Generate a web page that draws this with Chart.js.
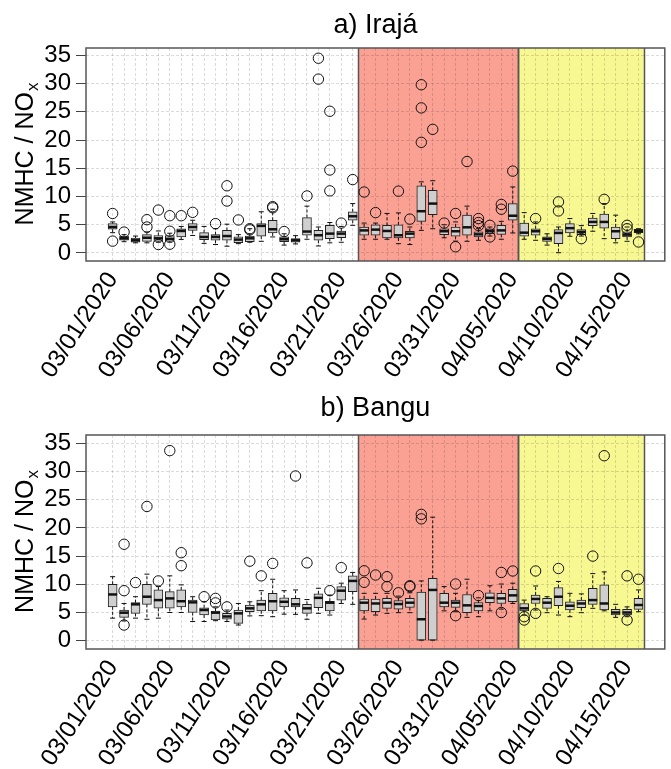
<!DOCTYPE html>
<html>
<head>
<meta charset="utf-8">
<script src="https://cdn.jsdelivr.net/npm/chart.js@4.4.1/dist/chart.umd.min.js"></script>
<style>
body { margin: 0; background: #fff; }
#wrap { position: relative; width: 671px; height: 769px; overflow: hidden; }
canvas { position: absolute; left: 0; }
</style>
</head>
<body>
<div id="wrap">
  <canvas id="chartA" width="671" height="392" style="top:0"></canvas>
  <canvas id="chartB" width="671" height="377" style="top:392px"></canvas>
</div>
<script>
const days = [
  '03/01/2020','03/02/2020','03/03/2020','03/04/2020','03/05/2020','03/06/2020','03/07/2020','03/08/2020',
  '03/09/2020','03/10/2020','03/11/2020','03/12/2020','03/13/2020','03/14/2020','03/15/2020','03/16/2020',
  '03/17/2020','03/18/2020','03/19/2020','03/20/2020','03/21/2020','03/22/2020','03/23/2020','03/24/2020',
  '03/25/2020','03/26/2020','03/27/2020','03/28/2020','03/29/2020','03/30/2020','03/31/2020','04/01/2020',
  '04/02/2020','04/03/2020','04/04/2020','04/05/2020','04/06/2020','04/07/2020','04/08/2020','04/09/2020',
  '04/10/2020','04/11/2020','04/12/2020','04/13/2020','04/14/2020','04/15/2020','04/16/2020'
];
const yTicks = [0, 5, 10, 15, 20, 25, 30, 35];

// a) Irajá
const irajaLo  = [3.6,2.0,1.8,1.8,1.9,1.9,2.4,3.1,1.7,1.5,1.2,1.65,1.9,2.07,2.84,1.4,1.6,2.43,1.24,1.8,1.9,4.9,2.43,2.43,2.43,1.65,1.5,4.0,4.3,2.7,2.1,2.07,2.25,3.0,2.43,3.55,2.43,2.25,1.4,0.05,2.96,3.0,3.85,2.54,1.8,2.07,3.4];
const irajaQ1  = [4.2,2.25,1.9,2.07,2.07,2.07,2.84,4.0,2.37,2.25,2.25,1.83,2.0,3.0,3.55,2.0,1.9,3.14,2.25,2.54,2.7,5.8,3.14,3.14,2.66,2.66,2.66,5.6,6.8,3.25,2.96,3.14,2.84,3.43,3.3,5.8,2.96,3.14,2.07,1.65,3.55,3.25,4.85,4.4,2.54,2.84,3.6];
const irajaMed = [4.6,2.6,2.25,2.7,2.6,2.5,3.9,4.6,2.84,2.84,3.0,2.37,2.6,4.8,4.2,2.43,2.25,3.8,3.14,3.43,3.43,6.5,4.0,4.14,3.9,3.14,3.43,7.4,8.75,3.85,3.85,4.55,3.3,3.9,4.0,6.6,3.6,3.85,2.5,3.55,4.4,3.73,5.5,5.5,3.85,3.25,3.9];
const irajaQ3  = [5.2,3.0,2.66,3.25,3.1,3.1,4.3,5.2,3.6,3.25,4.0,2.84,3.0,5.2,5.8,2.84,2.54,6.27,4.0,4.9,3.9,7.3,4.6,5.0,4.9,5.0,3.85,11.9,11.1,4.3,4.6,6.7,3.73,4.3,4.9,8.75,5.3,4.3,2.84,4.14,5.2,4.14,6.2,6.9,4.6,3.73,4.2];
const irajaHi  = [5.5,3.25,3.0,3.7,3.9,3.5,4.7,5.8,4.7,4.3,5.1,3.25,4.3,7.3,7.75,3.4,3.07,8.3,4.6,5.4,4.7,8.75,5.3,5.3,7.0,7.1,4.6,12.6,12.8,5.0,5.5,8.3,4.3,4.6,5.6,11.7,7.15,5.5,3.4,4.6,6.1,4.85,7.0,8.75,6.7,4.6,4.3];
const irajaOut = [[7.0,2.1],[3.7],[],[5.9,4.6],[7.6,1.5],[6.6,3.85,1.55],[6.6],[7.2],[],[5.2],[11.9,9.2],[5.85],[4.3,4.1],[],[8.2,8.0],[3.8],[],[10.1],[34.5,30.8],[25.1,14.7,11.0],[5.3],[13.0],[10.8],[7.15],[],[10.95],[6.0],[29.8,25.7,19.6],[21.9],[5.3],[7.0,1.1],[16.2],[6.1,5.4,4.85],[4.9,2.84],[8.6,7.75],[14.5],[],[6.1],[],[9.05,7.45],[],[2.54],[],[9.5],[],[4.9,4.3],[1.95]];

// b) Bangu
const banguLo  = [4.0,3.5,4.0,3.8,4.0,5.0,5.0,3.4,3.4,3.55,3.4,2.78,4.4,4.44,4.26,4.7,4.67,3.8,4.85,4.55,6.6,6.45,3.84,4.55,4.85,4.97,4.97,0.1,0.1,5.3,5.14,4.14,4.26,5.3,5.6,6.6,4.55,5.44,4.97,4.55,4.26,4.97,5.74,5.3,4.14,4.26,5.14];
const banguQ1  = [6.0,4.14,4.85,6.45,5.75,5.75,6.0,5.0,4.55,3.67,3.84,3.07,5.14,5.3,5.3,6.0,6.0,4.85,5.85,5.26,7.2,8.7,5.3,5.14,5.74,5.6,5.9,0.1,0.1,6.0,5.9,4.97,5.3,6.74,6.6,6.9,5.3,6.6,5.74,6.2,5.44,5.85,6.45,5.44,4.55,4.55,5.56];
const banguMed = [8.2,4.97,6.45,7.8,7.2,7.5,7.0,6.8,5.44,4.97,4.3,4.85,5.74,6.45,7.0,6.9,6.45,5.74,7.6,6.74,8.87,10.6,6.74,6.6,6.74,6.5,6.74,3.8,9.0,6.74,6.74,6.27,6.15,7.6,7.5,8.04,5.74,7.4,6.74,7.8,6.2,6.6,7.2,6.6,5.0,5.0,6.33];
const banguQ3  = [10.0,5.44,6.75,10.0,9.0,8.7,9.0,7.2,5.85,5.26,4.85,5.44,6.33,7.2,8.4,7.6,7.5,6.45,8.3,7.0,9.6,11.5,7.4,7.4,7.5,7.1,7.5,8.6,11.06,8.4,7.2,8.2,6.74,8.5,8.4,9.1,6.6,8.1,7.5,9.4,6.9,7.2,9.3,9.9,5.56,5.56,7.5];
const banguHi  = [11.35,6.6,7.8,11.8,9.6,11.5,9.9,7.8,6.9,6.0,5.44,6.6,6.9,8.87,10.9,8.87,9.0,7.3,9.3,8.1,10.2,12.1,8.4,8.4,8.4,7.9,8.5,10.6,21.9,9.6,8.4,10.9,7.6,9.75,10.05,10.2,7.2,9.7,7.8,10.5,8.4,8.3,11.9,12.2,6.45,6.0,9.0];
const banguOut = [[],[17.1,8.87,2.78],[10.3],[23.8],[10.6],[33.7],[15.6,13.3],[],[7.8],[7.5,6.7],[6.0],[],[14.1],[11.5],[13.7],[],[29.2],[13.8],[],[8.87],[12.95],[],[12.4,10.35],[11.65],[11.35,9.6],[8.5],[9.75,9.6],[22.4,21.6],[],[],[10.05,4.44],[],[8.0],[],[12.1,5.0],[12.36],[4.26,3.67],[12.36,4.85],[],[12.8],[],[],[15.0],[32.8],[],[11.5,3.67],[10.9]];

// shaded periods (day index boundaries)
const phases = [
  { from: 21.5, to: 35.5, color: '#fba194' },
  { from: 35.5, to: 46.5, color: '#f8f892' }
];

const FONT = "'Liberation Sans', Arial, sans-serif";

const boxPlugin = {
  id: 'boxes',
  beforeDraw(chart) {
    const { ctx, chartArea: a, scales: { x } } = chart;
    ctx.save();
    phases.forEach(p => {
      const x0 = x.getPixelForValue(p.from), x1 = x.getPixelForValue(p.to);
      ctx.fillStyle = p.color;
      ctx.fillRect(x0, a.top, x1 - x0, a.bottom - a.top);
    });
    ctx.restore();
  },
  beforeDatasetsDraw(chart) {
    const { ctx, chartArea: a, scales: { x } } = chart;
    ctx.save();
    ctx.strokeStyle = '#555';
    ctx.lineWidth = 1.5;
    phases.forEach(p => {
      [p.from, p.to].forEach(v => {
        const px = Math.round(x.getPixelForValue(v)) + 0.5;
        ctx.beginPath();
        ctx.moveTo(px, a.top);
        ctx.lineTo(px, a.bottom);
        ctx.stroke();
      });
    });
    ctx.restore();
  },
  afterDatasetsDraw(chart, args, opts) {
    const { ctx, scales: { x, y } } = chart;
    const d = opts.data;
    ctx.save();
    ctx.strokeStyle = '#111';
    days.forEach((_, i) => {
      const px = x.getPixelForValue(i);
      // whiskers
      ctx.lineWidth = 1;
      ctx.setLineDash([3, 2]);
      ctx.beginPath();
      if (d.hi[i] > d.q3[i]) {
        ctx.moveTo(px, y.getPixelForValue(d.q3[i]));
        ctx.lineTo(px, y.getPixelForValue(d.hi[i]));
      }
      if (d.lo[i] < d.q1[i]) {
        ctx.moveTo(px, y.getPixelForValue(d.q1[i]));
        ctx.lineTo(px, y.getPixelForValue(d.lo[i]));
      }
      ctx.stroke();
      ctx.setLineDash([]);
      ctx.beginPath();
      [d.hi[i], d.lo[i]].forEach(v => {
        const py = y.getPixelForValue(v);
        ctx.moveTo(px - 2.5, py);
        ctx.lineTo(px + 2.5, py);
      });
      ctx.stroke();
      // median
      ctx.lineWidth = 2.5;
      ctx.beginPath();
      const my = y.getPixelForValue(d.med[i]);
      ctx.moveTo(px - 4.5, my);
      ctx.lineTo(px + 4.5, my);
      ctx.stroke();
    });
    ctx.restore();
  },
  afterDraw(chart, args, opts) {
    const { ctx, chartArea: a } = chart;
    ctx.save();
    // frame
    ctx.strokeStyle = '#555';
    ctx.lineWidth = 1.5;
    ctx.strokeRect(a.left, a.top, a.right - a.left, a.bottom - a.top);
    // title
    ctx.fillStyle = '#000';
    ctx.font = '27px ' + FONT;
    ctx.textAlign = 'center';
    ctx.textBaseline = 'alphabetic';
    ctx.fillText(opts.title, (a.left + a.right) / 2, opts.titleY);
    // y-axis title with subscript
    const main = 'NMHC / NO', sub = 'x';
    ctx.font = '25px ' + FONT;
    const wMain = ctx.measureText(main).width;
    ctx.font = '17px ' + FONT;
    const wSub = ctx.measureText(sub).width;
    ctx.translate(33, (a.top + a.bottom) / 2);
    ctx.rotate(-Math.PI / 2);
    ctx.textAlign = 'left';
    const start = -(wMain + wSub) / 2;
    ctx.font = '25px ' + FONT;
    ctx.fillText(main, start, 0);
    ctx.font = '17px ' + FONT;
    ctx.fillText(sub, start + wMain + 1, 5);
    ctx.restore();
  }
};

function makeChart(id, d, cfg) {
  const outliers = [];
  d.out.forEach((vals, i) => vals.forEach(v => outliers.push({ x: i, y: v })));
  return new Chart(document.getElementById(id), {
    type: 'bar',
    data: {
      datasets: [
        {
          type: 'scatter',
          data: outliers,
          pointRadius: 5.2,
          pointHoverRadius: 5.2,
          borderColor: '#111',
          borderWidth: 1,
          backgroundColor: 'rgba(0,0,0,0)'
        },
        {
          type: 'bar',
          data: days.map((_, i) => ({ x: i, y: [d.q1[i], d.q3[i]] })),
          backgroundColor: '#cfcfcf',
          borderColor: '#222',
          borderWidth: 1,
          borderSkipped: false,
          barThickness: 9
        }
      ]
    },
    options: {
      responsive: false,
      animation: false,
      devicePixelRatio: 1,
      layout: { padding: { top: cfg.top, right: 4, left: 0, bottom: 0 } },
      plugins: {
        legend: { display: false },
        tooltip: { enabled: false },
        boxes: { data: d, title: cfg.title, titleY: cfg.titleY }
      },
      scales: {
        x: {
          type: 'linear',
          offset: false,
          min: -2.33,
          max: 48.3,
          afterBuildTicks: s => { s.ticks = days.map((_, i) => ({ value: i })); },
          afterFit: s => { s.height = cfg.xHeight; s.paddingLeft = 0; s.paddingRight = 0; },
          grid: { color: 'rgba(0,0,0,0.14)', drawTicks: false, offset: false },
          border: { display: false, dash: [3, 2] },
          ticks: {
            autoSkip: false,
            minRotation: 57,
            maxRotation: 57,
            padding: 6,
            color: '#000',
            font: { size: 24, family: FONT },
            callback: (v, i) => (i % 5 === 0 ? days[i] : '')
          }
        },
        y: {
          min: cfg.yMin,
          max: cfg.yMax,
          afterBuildTicks: s => { s.ticks = yTicks.map(v => ({ value: v })); },
          afterFit: s => { s.width = 86; s.paddingTop = 0; s.paddingBottom = 0; },
          grid: { color: 'rgba(0,0,0,0.14)', tickColor: '#444', tickLength: 10, tickBorderDash: [] },
          border: { display: false, dash: [3, 2] },
          ticks: { autoSkip: false, color: '#000', padding: 5, font: { size: 24, family: FONT } }
        }
      }
    },
    plugins: [boxPlugin]
  });
}

makeChart('chartA',
  { lo: irajaLo, q1: irajaQ1, med: irajaMed, q3: irajaQ3, hi: irajaHi, out: irajaOut },
  { title: 'a) Irajá', titleY: 33, top: 48, xHeight: 131, yMin: -1.42, yMax: 36.31 });

makeChart('chartB',
  { lo: banguLo, q1: banguQ1, med: banguMed, q3: banguQ3, hi: banguHi, out: banguOut },
  { title: 'b) Bangu', titleY: 24, top: 43, xHeight: 120, yMin: -1.47, yMax: 36.47 });
</script>
</body>
</html>
